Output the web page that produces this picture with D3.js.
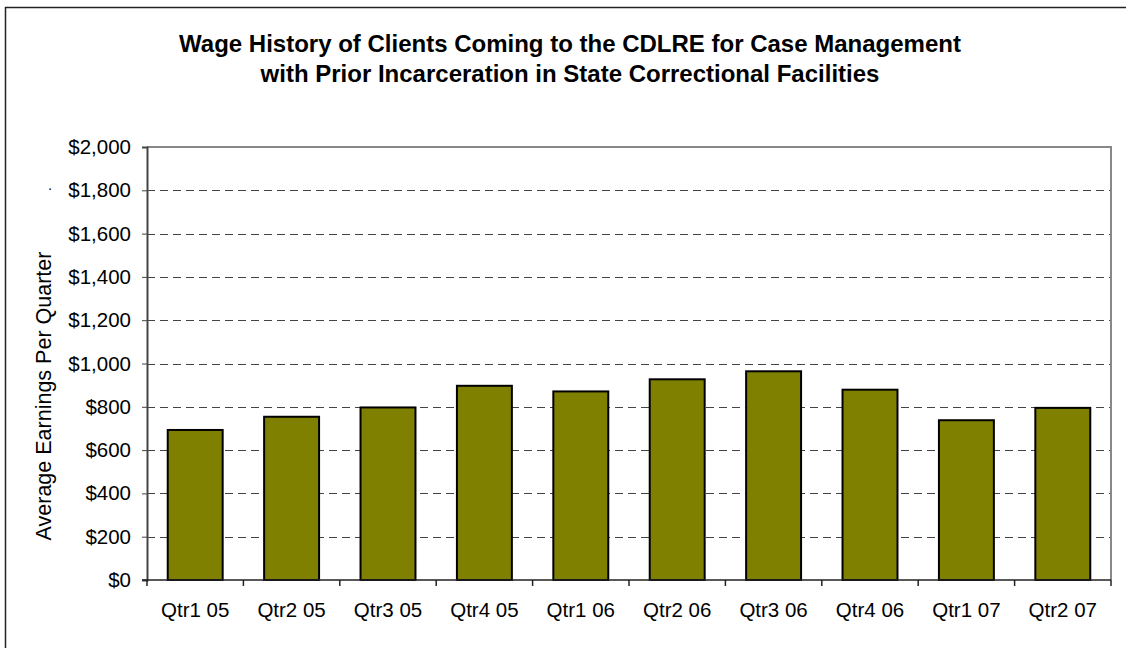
<!DOCTYPE html>
<html>
<head>
<meta charset="utf-8">
<script src="https://cdn.jsdelivr.net/npm/d3@7"></script>
<style>
  html, body { margin: 0; padding: 0; background: #fff; }
  svg { display: block; font-family: "Liberation Sans", Arial, sans-serif; }
</style>
</head>
<body>
<svg id="chart" width="1126" height="648"></svg>
<script>
const categories = ["Qtr1 05", "Qtr2 05", "Qtr3 05", "Qtr4 05", "Qtr1 06", "Qtr2 06", "Qtr3 06", "Qtr4 06", "Qtr1 07", "Qtr2 07"];
const earnings = [693, 754, 797, 897, 871, 927, 964, 879, 738, 795];
const yTicks = [0, 200, 400, 600, 800, 1000, 1200, 1400, 1600, 1800, 2000];
const titleLines = ["Wage History of Clients Coming to the CDLRE for Case Management", "with Prior Incarceration in State Correctional Facilities"];
const yTitle = "Average Earnings Per Quarter";

const svg = d3.select("#chart");
const W = 1126, H = 648;
const plot = { left: 147, right: 1111, top: 147, bottom: 580 };

// outer chart border
svg.append("rect")
  .attr("x", 5.5).attr("y", 7.5)
  .attr("width", W + 10).attr("height", H + 10)
  .attr("fill", "none").attr("stroke", "#222").attr("stroke-width", 1.5);

const x = d3.scaleBand().domain(categories)
  .range([plot.left, plot.right])
  .paddingInner(0.43).paddingOuter(0.215);
const y = d3.scaleLinear().domain([0, 2000]).range([plot.bottom, plot.top]);

// gridlines
svg.append("g").selectAll("line")
  .data(yTicks.filter(d => d > 0 && d < 2000))
  .join("line")
  .attr("x1", plot.left).attr("x2", plot.right)
  .attr("y1", d => Math.round(y(d)) + 0.5).attr("y2", d => Math.round(y(d)) + 0.5)
  .attr("stroke", "#444").attr("stroke-width", 1)
  .attr("stroke-dasharray", "8,5");

// plot frame top/right
svg.append("path")
  .attr("d", `M${plot.left},${plot.top}H${plot.right}V${plot.bottom}`)
  .attr("fill", "none").attr("stroke", "#888").attr("stroke-width", 2);

// bars
svg.append("g").selectAll("rect")
  .data(categories.map((c, i) => ({ c, v: earnings[i] })))
  .join("rect")
  .attr("x", d => x(d.c))
  .attr("y", d => y(d.v))
  .attr("width", x.bandwidth())
  .attr("height", d => y(0) - y(d.v))
  .attr("fill", "#808000")
  .attr("stroke", "#000").attr("stroke-width", 2);

// y axis
const yAxis = d3.axisLeft(y).tickValues(yTicks)
  .tickFormat(d => "$" + d3.format(",")(d))
  .tickSize(5).tickPadding(11);
const gy = svg.append("g").attr("transform", `translate(${plot.left},0)`).call(yAxis);
gy.select(".domain").attr("stroke", "#444").attr("stroke-width", 2);
gy.selectAll(".tick line").attr("stroke", "#444");
gy.selectAll("text").attr("font-size", 20.5).attr("fill", "#000")
  .attr("font-family", "'Liberation Sans', Arial, sans-serif");

// x axis with ticks at category boundaries
const boundaries = d3.range(categories.length + 1).map(i => plot.left + i * x.step());
const gx = svg.append("g");
gx.append("line")
  .attr("x1", plot.left - 5).attr("x2", plot.right)
  .attr("y1", plot.bottom).attr("y2", plot.bottom)
  .attr("stroke", "#222").attr("stroke-width", 1.5);
gx.selectAll("line.tk").data(boundaries).join("line").attr("class", "tk")
  .attr("x1", d => d).attr("x2", d => d)
  .attr("y1", plot.bottom).attr("y2", plot.bottom + 6)
  .attr("stroke", "#222").attr("stroke-width", 1.5);
gx.selectAll("text").data(categories).join("text")
  .attr("x", d => x(d) + x.bandwidth() / 2)
  .attr("y", 617)
  .attr("text-anchor", "middle")
  .attr("font-size", 20.5).attr("fill", "#000")
  .text(d => d);

// y title
svg.append("text")
  .attr("transform", "translate(51,396) rotate(-90)")
  .attr("text-anchor", "middle")
  .attr("font-size", 21.5).attr("fill", "#000")
  .text(yTitle);

// stray dot near $1,800
svg.append("text").attr("x", 50).attr("y", 193).attr("text-anchor", "middle")
  .attr("font-size", 14).text("·");

// title
svg.append("g").selectAll("text").data(titleLines).join("text")
  .attr("x", 570)
  .attr("y", (d, i) => 52 + i * 30)
  .attr("text-anchor", "middle")
  .attr("font-size", 24).attr("font-weight", "bold").attr("fill", "#000")
  .text(d => d);
</script>
</body>
</html>
